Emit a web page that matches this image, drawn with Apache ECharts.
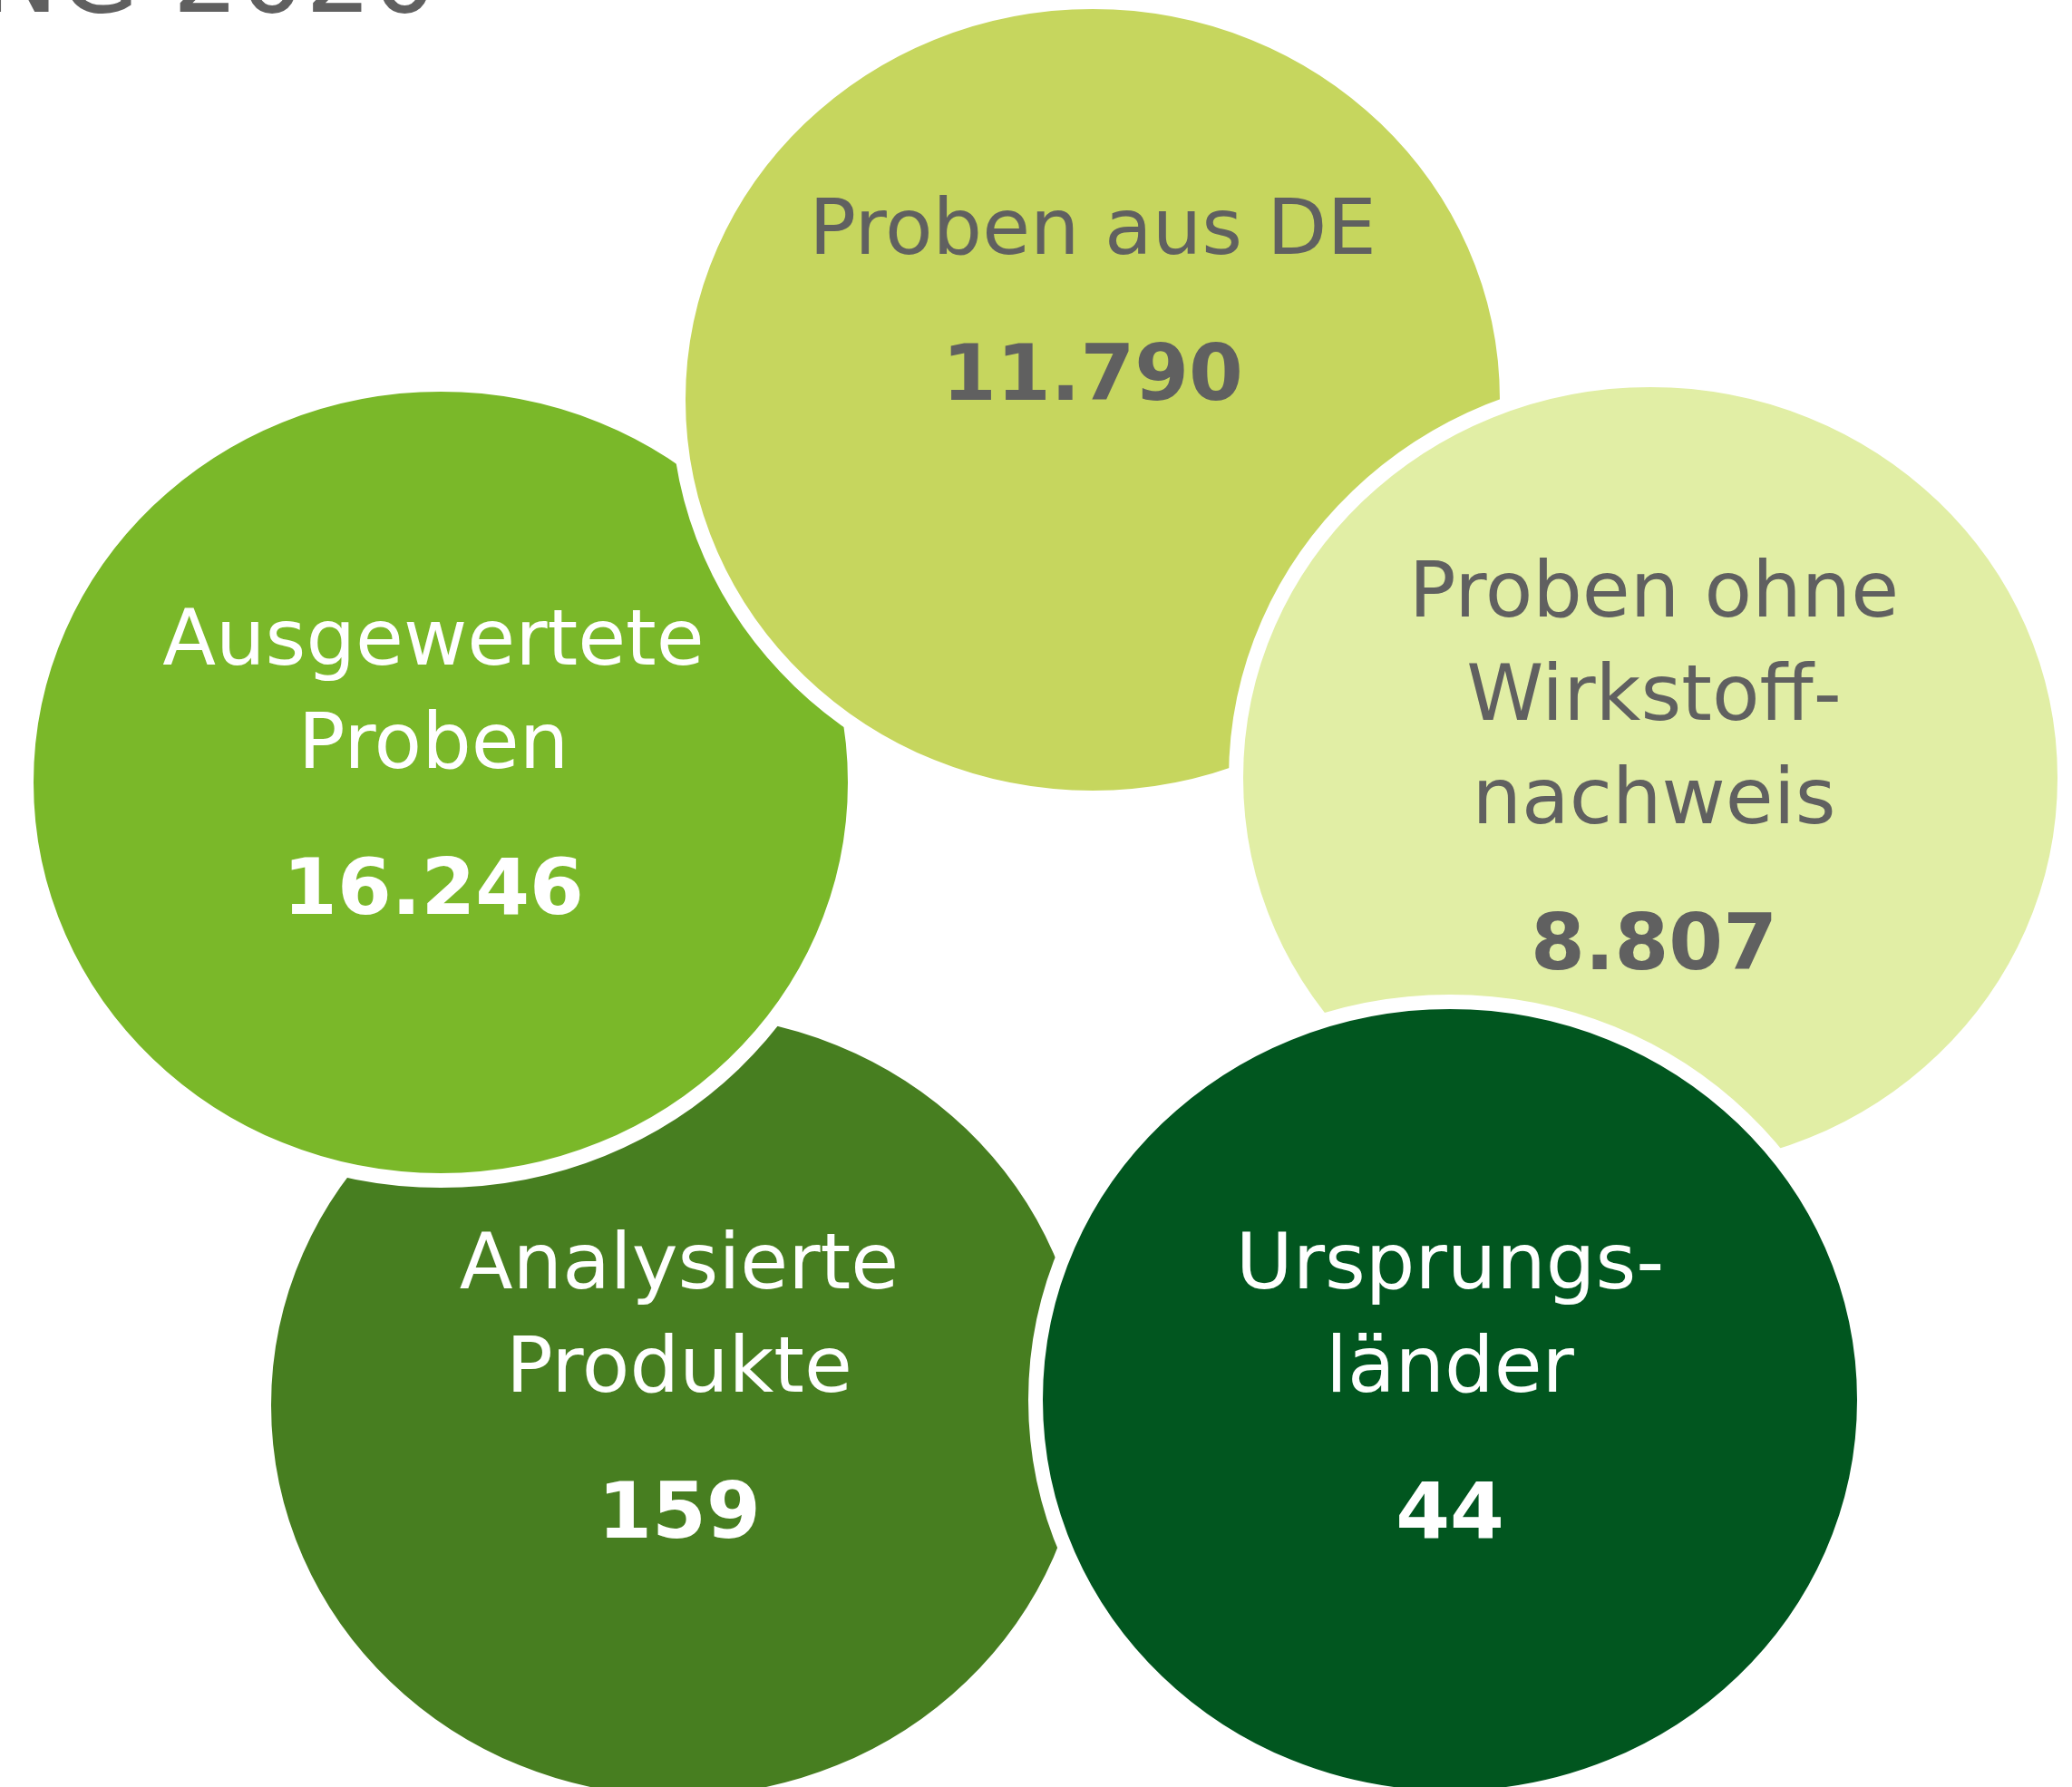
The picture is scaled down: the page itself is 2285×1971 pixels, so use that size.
<!DOCTYPE html>
<html>
<head>
<meta charset="utf-8">
<script src="https://cdn.jsdelivr.net/npm/echarts@6/dist/echarts.min.js"></script>
<style>
html, body { margin: 0; padding: 0; background: #fff; }
#chart { width: 2285px; height: 1971px; }
</style>
</head>
<body>
<div id="chart"></div>
<script>
// Kennzahlen (Zeichenreihenfolge = Überlagerung, letzte liegt oben)
var names = ['Analysierte\nProdukte', 'Ausgewertete\nProben', 'Proben aus DE', 'Proben ohne\nWirkstoff-\nnachweis', 'Ursprungs-\nländer'];
var values = [159, 16246, 11790, 8807, 44];
var colors = ['#477e20', '#7ab829', '#c6d65e', '#e1eea5', '#01561f'];
var textColors = ['#ffffff', '#ffffff', '#606060', '#606060', '#ffffff'];

// Layout (Pixel): Kreismittelpunkte und Textanker
var centers = [[748, 1550], [486, 863], [1205, 441], [1820, 858], [1599, 1544]];
var labelAnchors = [[749, 1704], [478, 1016], [1205, 449], [1824, 1077], [1599, 1704]];
var RX = 457, RY = 439, GAP = 16;
var FONT = 'DejaVu Sans';
var FS = 86;

function fmt(v) {
	return String(v).replace(/\B(?=(\d{3})+(?!\d))/g, '.');
}

var chart = echarts.init(document.getElementById('chart'));

var option = {
	animation: false,
	grid: { left: 0, right: 0, top: 0, bottom: 0 },
	xAxis: { type: 'value', min: 0, max: 2285, show: false },
	yAxis: { type: 'value', min: 0, max: 1971, inverse: true, show: false },
	graphic: [{
		type: 'text',
		x: 483,
		y: -17,
		style: {
			text: 'NG 2020',
			align: 'right',
			verticalAlign: 'middle',
			fontSize: 115,
			fontFamily: FONT,
			fill: '#606060'
		}
	}],
	series: [{
		type: 'custom',
		coordinateSystem: 'cartesian2d',
		data: names.map(function (n, i) { return { name: n, value: [i, values[i]] }; }),
		renderItem: function (params, api) {
			var i = api.value(0);
			var c = api.coord(centers[i]);
			var s = api.size([RX, RY]);
			var a = api.coord(labelAnchors[i]);
			return {
				type: 'group',
				children: [{
					type: 'ellipse',
					shape: { cx: c[0], cy: c[1], rx: s[0], ry: s[1] },
					style: { fill: colors[i], stroke: '#fff', lineWidth: GAP }
				}, {
					type: 'text',
					x: a[0],
					y: a[1] - 162 + 28,
					style: {
						text: names[i],
						align: 'center',
						verticalAlign: 'bottom',
						lineHeight: 114,
						fontSize: FS,
						fontFamily: FONT,
						fill: textColors[i]
					}
				}, {
					type: 'text',
					x: a[0],
					y: a[1] - 30,
					style: {
						text: fmt(values[i]),
						align: 'center',
						verticalAlign: 'middle',
						fontSize: FS,
						fontWeight: 'bold',
						fontFamily: FONT,
						fill: textColors[i]
					}
				}]
			};
		}
	}]
};

chart.setOption(option);
</script>
</body>
</html>
